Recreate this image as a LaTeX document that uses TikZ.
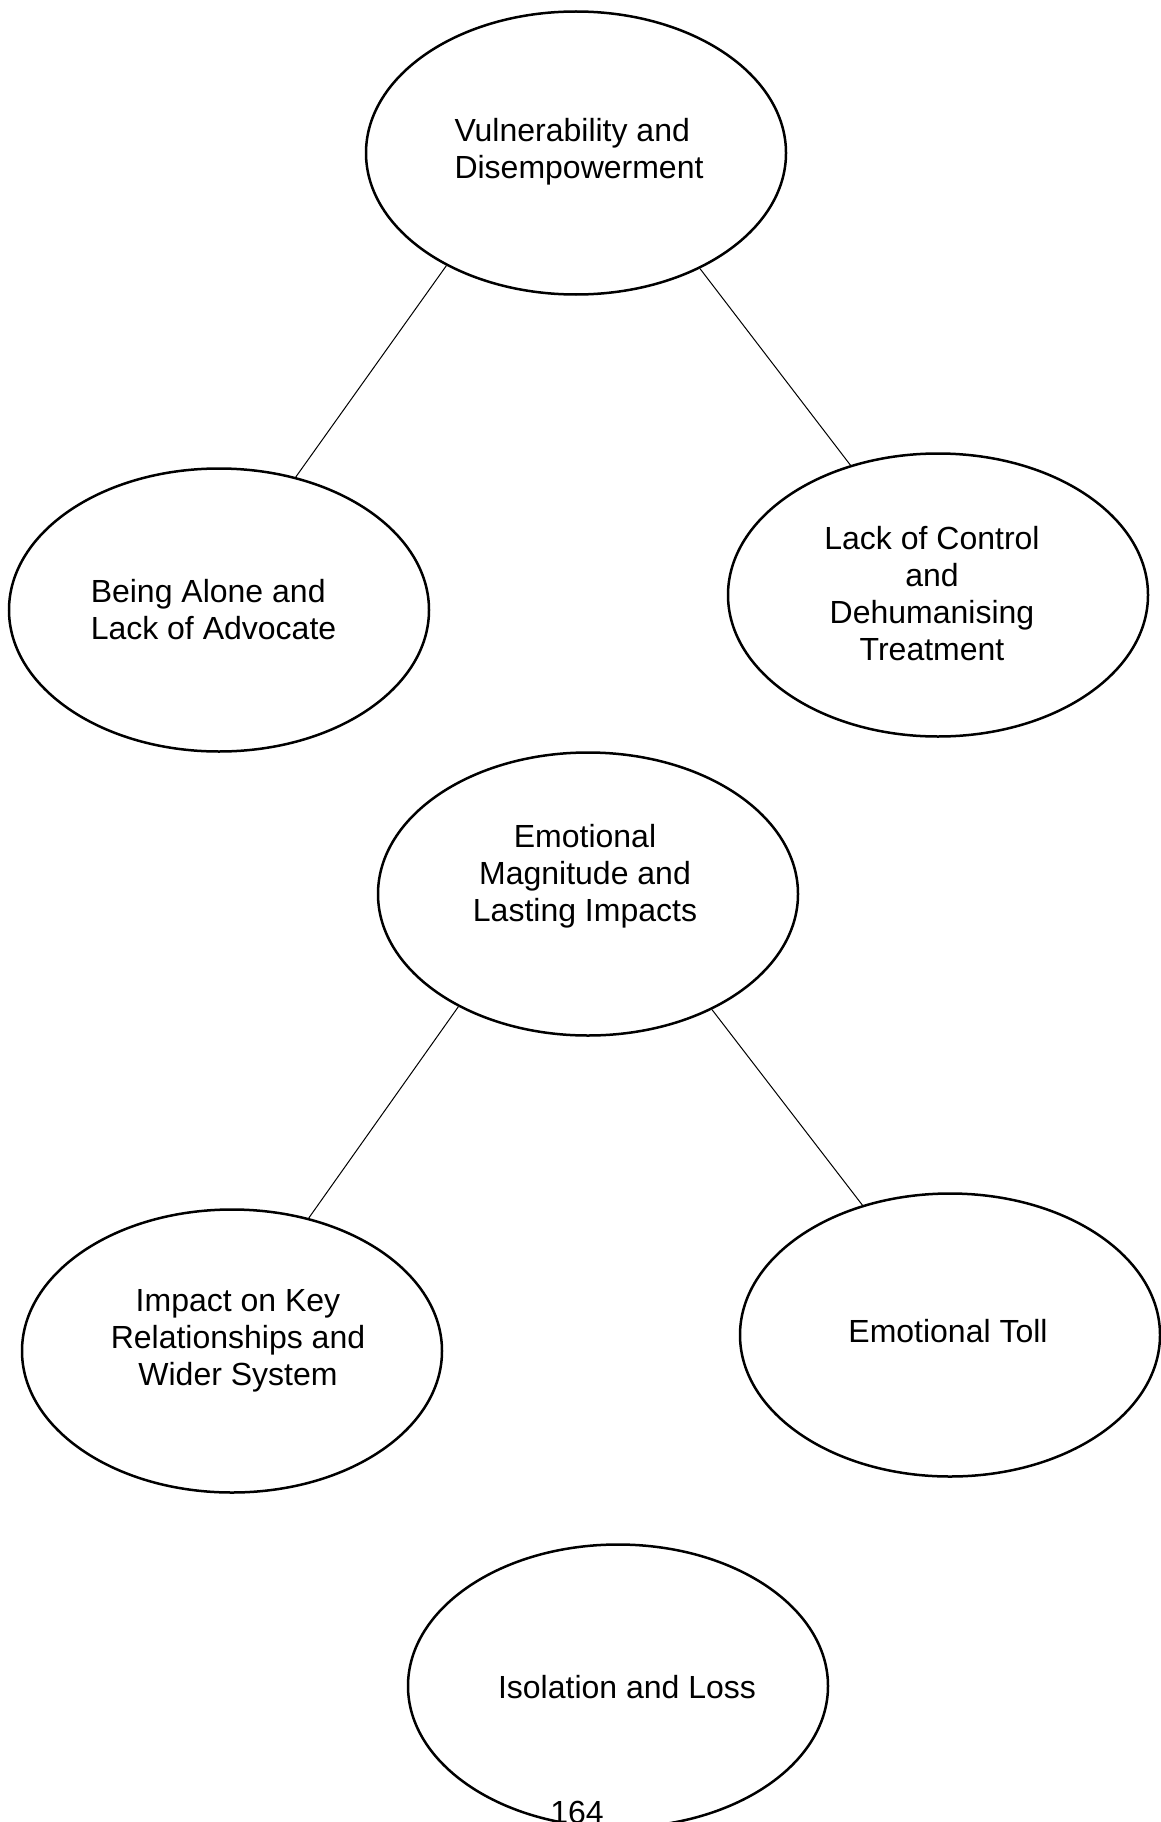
\documentclass[tikz,border=0pt]{standalone}
\usepackage{fontspec}
\setmainfont{Liberation Sans}
\usetikzlibrary{shapes.geometric}
\begin{document}
\begin{tikzpicture}[x=1pt,y=-1pt,
  bubble/.style={draw=black, line width=2.5pt, ellipse, minimum width=420pt, minimum height=283pt, inner sep=0pt},
  txt/.style={inner sep=0pt, font=\fontsize{32}{37}\selectfont, text=black},
  conn/.style={draw=black, line width=1pt}]
\useasboundingbox (0,0) rectangle (1161,1822);
\clip (0,0) rectangle (1161,1822);
\fill[white] (0,0) rectangle (1161,1822);
% ellipses
\node[bubble] (e1) at (576,153) {};
\node[bubble] (e2) at (219,610) {};
\node[bubble] (e3) at (938,595) {};
\node[bubble] (e4) at (588,894) {};
\node[bubble] (e5) at (232,1351) {};
\node[bubble] (e6) at (950,1335) {};
\node[bubble] (e7) at (618,1686) {};
% texts
\node[txt, align=left] (t1) at (579,151.5) {Vulnerability and\\Disempowerment};
\node[txt, align=left] (t2) at (213.5,609.5) {Being Alone and\\Lack of Advocate};
\node[txt, align=center] (t3) at (932,593.5) {Lack of Control\\and\\Dehumanising\\Treatment};
\node[txt, align=center] (t4) at (585,876.5) {Emotional\\Magnitude and\\Lasting Impacts};
\node[txt, align=center] (t5) at (238,1340.5) {Impact on Key\\Relationships and\\Wider System};
\node[txt, align=center] (t6) at (948,1331) {Emotional Toll};
\node[txt, align=center] (t7) at (627,1687.5) {Isolation and Loss};
% page number
\node[txt, anchor=base] (pg) at (577,1823) {164};
% connectors
\draw[conn] (e1.221.5) -- (e2.60.6);
\draw[conn] (e1.-43.3) -- (e3.124.4);
\draw[conn] (e4.221.2) -- (e5.60.6);
\draw[conn] (e4.-43.1) -- (e6.124.8);
\end{tikzpicture}
\end{document}
